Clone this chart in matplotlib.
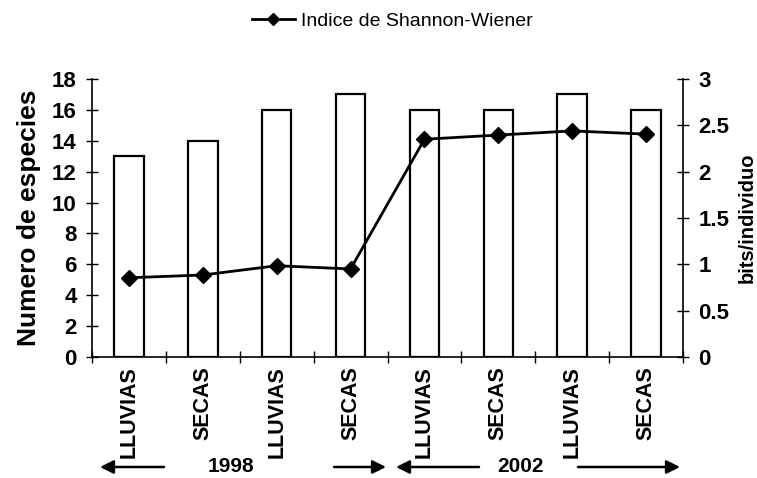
import matplotlib
matplotlib.use('Agg')
import matplotlib.pyplot as plt
from matplotlib.lines import Line2D
import numpy as np

# Datos
temporadas = ['LLUVIAS', 'SECAS', 'LLUVIAS', 'SECAS', 'LLUVIAS', 'SECAS', 'LLUVIAS', 'SECAS']
num_especies = [13, 14, 16, 17, 16, 16, 17, 16]
shannon = [0.855, 0.885, 0.985, 0.95, 2.35, 2.395, 2.44, 2.405]
anios = ['1998', '2002']

W, H = 757, 478
plt.rcParams['font.family'] = ['Liberation Sans', 'DejaVu Sans']

fig = plt.figure(figsize=(W / 100, H / 100), dpi=100)
ax = fig.add_axes([92 / W, 1 - 357 / H, (683 - 92) / W, (357 - 79) / H])
x = np.arange(len(temporadas))

# Barras: numero de especies
ax.bar(x, num_especies, width=0.4, color='white', edgecolor='black', linewidth=1.6, zorder=2)
ax.set_xlim(-0.5, len(temporadas) - 0.5)
ax.set_ylim(0, 18)
ax.set_yticks(range(0, 19, 2))
ax.set_xticks(x)
ax.set_xticklabels(temporadas, rotation=90, fontsize=15.5, fontweight='bold', va='top')
ax.set_xticks(np.arange(-0.5, len(temporadas), 1), minor=True)
ax.tick_params(axis='x', which='major', length=0, pad=7)
ax.tick_params(axis='x', which='minor', length=8, direction='inout', width=1)
ax.tick_params(axis='y', length=8, direction='inout', width=1, labelsize=16, pad=7)
for lab in ax.get_yticklabels():
    lab.set_fontweight('bold')
ax.set_ylabel('Numero de especies', fontsize=19, fontweight='bold', labelpad=8)
ax.spines['top'].set_visible(False)
ax.spines['right'].set_visible(False)
ax.spines['left'].set_linewidth(1.2)
ax.spines['bottom'].set_linewidth(1.2)

# Linea: indice de Shannon-Wiener
ax2 = ax.twinx()
ax2.plot(x, shannon, color='black', linewidth=2, marker='D', markersize=8, zorder=3)
ax2.set_ylim(0, 3)
ax2.set_yticks([0, 0.5, 1, 1.5, 2, 2.5, 3])
ax2.set_yticklabels(['0', '0.5', '1', '1.5', '2', '2.5', '3'])
ax2.tick_params(axis='y', length=8, direction='inout', width=1, labelsize=16, pad=7)
for lab in ax2.get_yticklabels():
    lab.set_fontweight('bold')
ax2.set_ylabel('bits/individuo', fontsize=14.5, fontweight='bold', labelpad=6)
ax2.spines['top'].set_visible(False)
ax2.spines['left'].set_visible(False)
ax2.spines['bottom'].set_visible(False)
ax2.spines['right'].set_linewidth(1.2)

# Leyenda
handle = Line2D([], [], color='black', linewidth=2, marker='D', markersize=6)
fig.legend([handle], ['Indice de Shannon-Wiener'], loc='center', bbox_to_anchor=(0.518, 1 - 21 / H),
           frameon=False, fontsize=14, handlelength=2.2, handletextpad=0.3)

# Anios con flechas
def fx(px):
    return px / W

ya = 1 - 467 / H
flechas = [(164, 100), (334, 386), (479, 396), (578, 680)]
for x0, x1 in flechas:
    fig.add_artist(plt.Annotation('', xy=(fx(x1), ya), xytext=(fx(x0), ya),
                                  xycoords='figure fraction', textcoords='figure fraction',
                                  arrowprops=dict(arrowstyle='-|>', color='black', lw=1.8,
                                                  mutation_scale=20, shrinkA=0, shrinkB=0)))
fig.text(fx(231), ya, anios[0], ha='center', va='center', fontsize=15, fontweight='bold')
fig.text(fx(521), ya, anios[1], ha='center', va='center', fontsize=15, fontweight='bold')

fig.savefig('out.png', dpi=100)
